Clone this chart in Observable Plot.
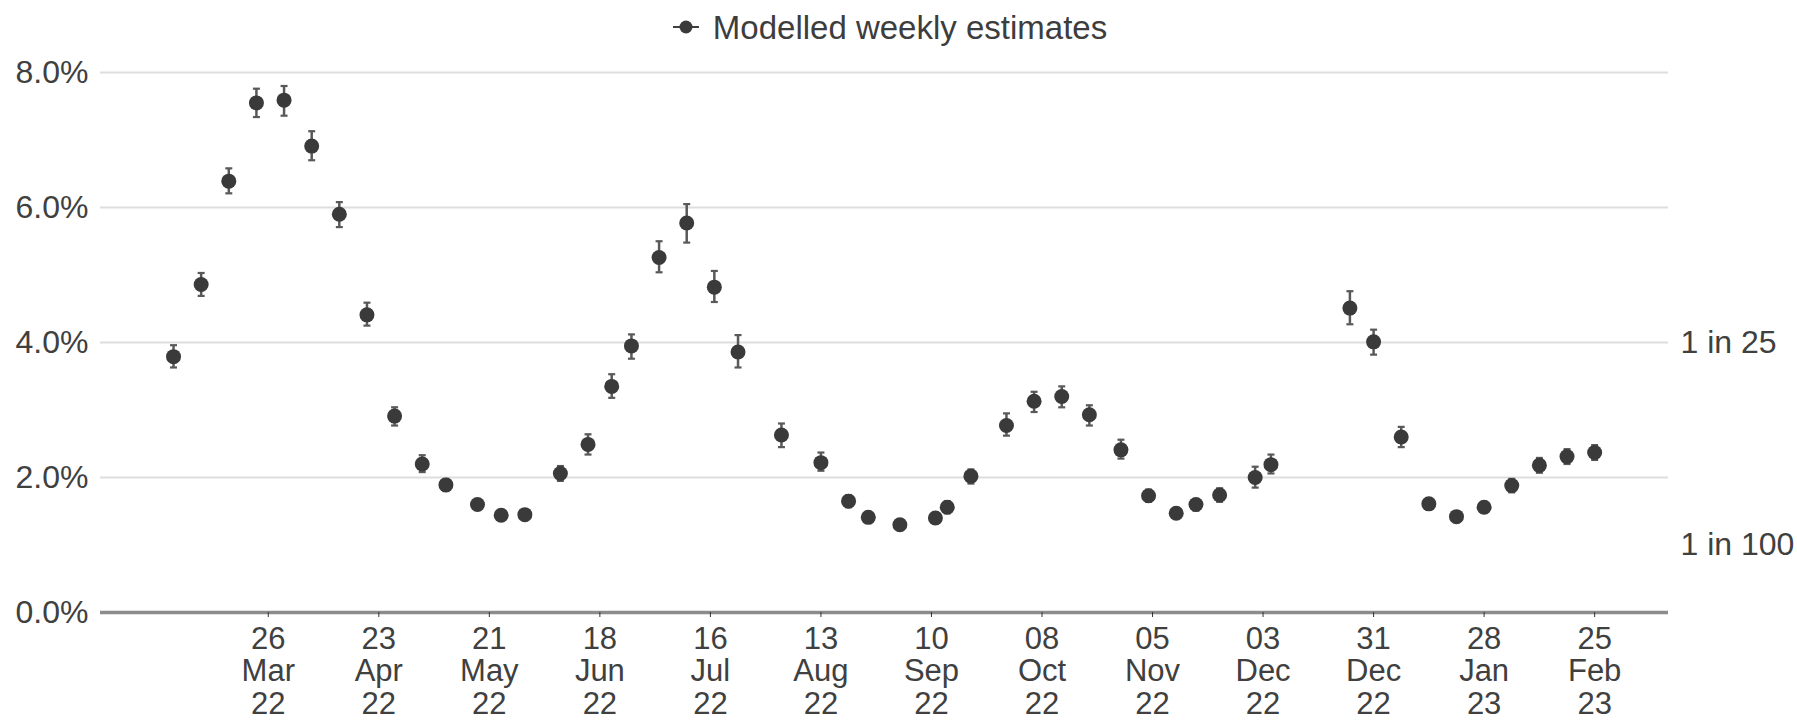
<!DOCTYPE html>
<html>
<head>
<meta charset="utf-8">
<script src="https://cdn.jsdelivr.net/npm/d3@7"></script>
<script src="https://cdn.jsdelivr.net/npm/@observablehq/plot@0.6"></script>
<style>
  html, body { margin: 0; padding: 0; background: #fff; }
  body { font-family: "Liberation Sans", Arial, Helvetica, sans-serif; color: #3d3d3d; width: 1797px; }
  #legend { height: 54px; display: flex; align-items: center; justify-content: center; padding-right: 17px; box-sizing: border-box; }
  #legend svg { margin-right: 14px; }
  #legend span { font-size: 33px; line-height: 1; color: #3d3d3d; }
  #chart svg { display: block; }
</style>
</head>
<body>
<div id="legend">
  <svg width="26" height="16" viewBox="0 0 26 16"><line x1="0" y1="8" x2="26" y2="8" stroke="#3f3f3f" stroke-width="2"/><circle cx="13" cy="8" r="6.5" fill="#3a3a3a"/></svg>
  <span>Modelled weekly estimates</span>
</div>
<div id="chart"></div>
<script>
// ---- Data ----
const dates = [
  "2022-03-02","2022-03-09","2022-03-16","2022-03-23","2022-03-30","2022-04-06","2022-04-13",
  "2022-04-20","2022-04-27","2022-05-04","2022-05-10","2022-05-18","2022-05-24","2022-05-30",
  "2022-06-08","2022-06-15","2022-06-21","2022-06-26","2022-07-03","2022-07-10","2022-07-17",
  "2022-07-23","2022-08-03","2022-08-13","2022-08-20","2022-08-25","2022-09-02","2022-09-11",
  "2022-09-14","2022-09-20","2022-09-29","2022-10-06","2022-10-13","2022-10-20","2022-10-28",
  "2022-11-04","2022-11-11","2022-11-16","2022-11-22","2022-12-01","2022-12-05","2022-12-25",
  "2022-12-31","2023-01-07","2023-01-14","2023-01-21","2023-01-28","2023-02-04","2023-02-11",
  "2023-02-18","2023-02-25"
];
const estimates = [
  3.79, 4.86, 6.39, 7.55, 7.59, 6.91, 5.90,
  4.41, 2.91, 2.20, 1.89, 1.60, 1.44, 1.45,
  2.06, 2.49, 3.35, 3.95, 5.26, 5.77, 4.82,
  3.86, 2.63, 2.22, 1.65, 1.41, 1.30, 1.40,
  1.56, 2.02, 2.77, 3.13, 3.20, 2.93, 2.41,
  1.73, 1.47, 1.60, 1.74, 2.00, 2.19, 4.51,
  4.01, 2.60, 1.61, 1.42, 1.56, 1.88, 2.18,
  2.31, 2.37
];
const lower = [
  3.63, 4.69, 6.21, 7.34, 7.36, 6.70, 5.71,
  4.25, 2.77, 2.08, 1.80, 1.52, 1.37, 1.38,
  1.95, 2.34, 3.18, 3.76, 5.04, 5.48, 4.60,
  3.63, 2.45, 2.10, 1.56, 1.33, 1.23, 1.32,
  1.47, 1.91, 2.62, 2.97, 3.04, 2.77, 2.28,
  1.64, 1.40, 1.51, 1.64, 1.85, 2.06, 4.27,
  3.82, 2.45, 1.53, 1.35, 1.48, 1.78, 2.07,
  2.20, 2.26
];
const upper = [
  3.96, 5.03, 6.58, 7.76, 7.80, 7.13, 6.08,
  4.59, 3.04, 2.33, 1.98, 1.68, 1.51, 1.52,
  2.17, 2.64, 3.53, 4.12, 5.50, 6.05, 5.06,
  4.11, 2.80, 2.37, 1.74, 1.49, 1.37, 1.48,
  1.65, 2.12, 2.95, 3.27, 3.35, 3.07, 2.56,
  1.82, 1.55, 1.68, 1.84, 2.16, 2.34, 4.76,
  4.19, 2.75, 1.69, 1.49, 1.64, 1.98, 2.29,
  2.42, 2.48
];
const xTickDates = [
  "2022-03-26","2022-04-23","2022-05-21","2022-06-18","2022-07-16","2022-08-13","2022-09-10",
  "2022-10-08","2022-11-05","2022-12-03","2022-12-31","2023-01-28","2023-02-25"
];
const yTicks = [0, 2, 4, 6, 8];
const gridValues = [2, 4, 6, 8];
const riskTicks = [4, 1];
const riskLabels = ["1 in 25", "1 in 100"];
const xDomain = ["2022-02-11T12:00Z", "2023-03-15T17:00Z"];

// ---- Build ----
const data = dates.map((d, i) => ({ date: new Date(d), value: estimates[i], lo: lower[i], hi: upper[i] }));
const ticks = xTickDates.map(d => new Date(d));
const fmtD = d3.utcFormat("%d"), fmtB = d3.utcFormat("%b"), fmtY = d3.utcFormat("%y");
const capSymbol = { draw(ctx) { ctx.moveTo(-3.5, 0); ctx.lineTo(3.5, 0); } };
const font = '"Liberation Sans", Arial, Helvetica, sans-serif';

const chart = Plot.plot({
  width: 1797,
  height: 671,
  marginTop: 18,
  marginBottom: 113,
  marginLeft: 100,
  marginRight: 129,
  style: { fontFamily: font, fontSize: "32px", color: "#404040", background: "#fff", overflow: "visible" },
  x: { type: "utc", domain: xDomain.map(d => new Date(d)) },
  y: { domain: [0, 8] },
  marks: [
    Plot.ruleY(gridValues, { stroke: "#dedede", strokeWidth: 2 }),
    Plot.ruleY([0], { stroke: "#8c8c8c", strokeWidth: 3.5 }),
    Plot.axisY({ ticks: yTicks, tickFormat: d => d.toFixed(1) + "%", tickSize: 0, tickPadding: 12, label: null, fontSize: 32 }),
    Plot.axisY({ anchor: "right", ticks: riskTicks, tickFormat: d => riskLabels[riskTicks.indexOf(d)], tickSize: 0, tickPadding: 12, label: null, fontSize: 32 }),
    Plot.axisX({ ticks: ticks, tickFormat: d => fmtD(d) + "\n" + fmtB(d) + "\n" + fmtY(d), tickSize: 5, tickPadding: 8, stroke: "#333", label: null, fontSize: 31, lineHeight: 1.05 }),
    Plot.ruleX(data, { x: "date", y1: "lo", y2: "hi", stroke: "#595959", strokeWidth: 2.5 }),
    Plot.dot(data, { x: "date", y: "lo", symbol: capSymbol, stroke: "#595959", strokeWidth: 2.2, fill: "none" }),
    Plot.dot(data, { x: "date", y: "hi", symbol: capSymbol, stroke: "#595959", strokeWidth: 2.2, fill: "none" }),
    Plot.dot(data, { x: "date", y: "value", r: 7.5, fill: "#3a3a3a", stroke: "none" })
  ]
});
document.getElementById("chart").appendChild(chart);
</script>
</body>
</html>
